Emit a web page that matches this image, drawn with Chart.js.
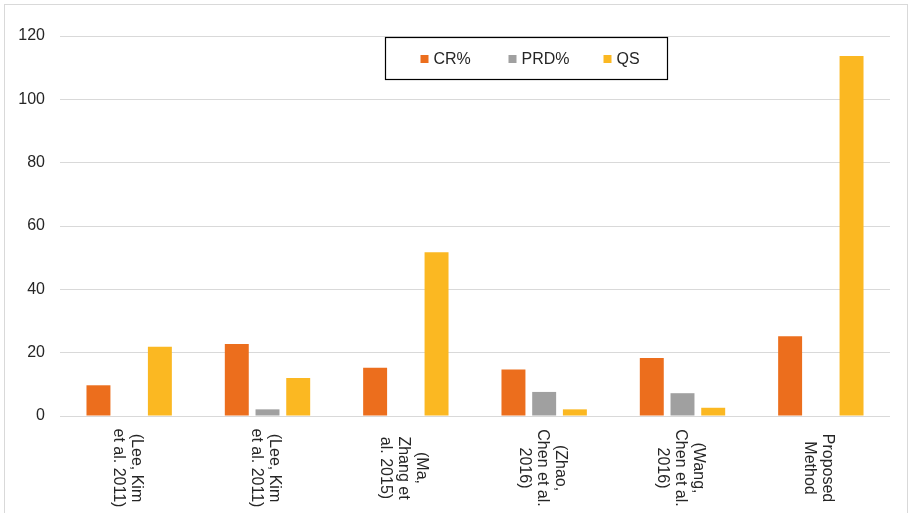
<!DOCTYPE html>
<html>
<head>
<meta charset="utf-8">
<script src="https://cdn.jsdelivr.net/npm/chart.js@4.4.1/dist/chart.umd.min.js"></script>
<style>
  html, body { margin: 0; padding: 0; background: #ffffff; }
  canvas { display: block; }
</style>
</head>
<body>
<canvas id="chart" width="910" height="513"></canvas>
<script>
// Category labels (each entry is the wrapped lines of one label)
const categories = [
  ["(Lee, Kim", "et al. 2011)"],
  ["(Lee, Kim", "et al. 2011)"],
  ["(Ma,", "Zhang et", "al. 2015)"],
  ["(Zhao,", "Chen et al.", "2016)"],
  ["(Wang,", "Chen et al.", "2016)"],
  ["Proposed", "Method"]
];

// Series values
const crValues  = [9.7, 22.7, 15.2, 14.7, 18.3, 25.2];
const prdValues = [0, 2.1, 0, 7.6, 7.2, 0];
const qsValues  = [21.9, 12.0, 51.7, 2.1, 2.6, 113.7];

// Series names
const seriesNames = ["CR%", "PRD%", "QS"];

// Y axis ticks
const yMin = 0;
const yMax = 120;
const yStep = 20;

const COLORS = ["#EC6E1D", "#A0A0A0", "#FBB822"];
const FONT = "'Liberation Sans', Arial, sans-serif";
const TEXT = "#262626";

// Outer frame around the whole figure
const framePlugin = {
  id: 'frame',
  beforeDraw(chart) {
    const ctx = chart.ctx;
    ctx.save();
    ctx.fillStyle = '#ffffff';
    ctx.fillRect(0, 0, chart.width, chart.height);
    ctx.strokeStyle = '#D9D9D9';
    ctx.lineWidth = 1;
    ctx.strokeRect(4.5, 4.5, 903, 530);
    ctx.restore();
  }
};

// Vertical category labels, reading top to bottom
const verticalLabels = {
  id: 'verticalLabels',
  afterDraw(chart) {
    const ctx = chart.ctx;
    const xs = chart.scales.x;
    const lineH = 18;
    const centerY = 468;
    ctx.save();
    ctx.font = "16px " + FONT;
    ctx.fillStyle = TEXT;
    ctx.textAlign = 'center';
    ctx.textBaseline = 'middle';
    categories.forEach((lines, i) => {
      const cx = xs.getPixelForValue(i) - 2;
      ctx.save();
      ctx.translate(cx, centerY);
      ctx.rotate(Math.PI / 2);
      const n = lines.length;
      lines.forEach((t, j) => {
        ctx.fillText(t, 0, (j - (n - 1) / 2) * lineH);
      });
      ctx.restore();
    });
    ctx.restore();
  }
};

// Boxed legend inside the plot
const boxedLegend = {
  id: 'boxedLegend',
  afterDraw(chart) {
    const ctx = chart.ctx;
    const box = { x: 385, y: 37, w: 282, h: 42 };
    ctx.save();
    ctx.fillStyle = '#ffffff';
    ctx.fillRect(box.x, box.y, box.w, box.h);
    ctx.strokeStyle = '#000000';
    ctx.lineWidth = 1.2;
    ctx.strokeRect(box.x + 0.5, box.y + 0.5, box.w, box.h);
    const cy = box.y + 22;
    const squares = [420.5, 508.5, 603.5];
    ctx.font = "16px " + FONT;
    ctx.textBaseline = 'middle';
    ctx.textAlign = 'left';
    chart.data.datasets.forEach((ds, i) => {
      ctx.fillStyle = ds.backgroundColor;
      ctx.fillRect(squares[i], cy - 4, 8, 8);
      ctx.fillStyle = TEXT;
      ctx.fillText(ds.label, squares[i] + 13, cy + 1);
    });
    ctx.restore();
  }
};

new Chart(document.getElementById('chart'), {
  type: 'bar',
  data: {
    labels: categories,
    datasets: [
      { label: seriesNames[0], data: crValues,  backgroundColor: COLORS[0] },
      { label: seriesNames[1], data: prdValues, backgroundColor: COLORS[1] },
      { label: seriesNames[2], data: qsValues,  backgroundColor: COLORS[2] }
    ]
  },
  options: {
    responsive: false,
    animation: false,
    layout: { padding: { top: 36, right: 20, left: 0, bottom: 0 } },
    datasets: {
      bar: { categoryPercentage: 0.666, barPercentage: 0.78 }
    },
    plugins: {
      legend: { display: false },
      tooltip: { enabled: false }
    },
    scales: {
      x: {
        grid: { display: false },
        border: { display: false },
        ticks: { display: false },
        afterFit(scale) { scale.height = 97; }
      },
      y: {
        min: yMin,
        max: yMax,
        ticks: {
          stepSize: yStep,
          padding: 15,
          color: TEXT,
          font: { family: FONT, size: 16 }
        },
        grid: { color: '#D9D9D9', drawTicks: false, lineWidth: 1 },
        border: { display: false },
        afterFit(scale) { scale.width = 60; }
      }
    }
  },
  plugins: [framePlugin, verticalLabels, boxedLegend]
});
</script>
</body>
</html>
